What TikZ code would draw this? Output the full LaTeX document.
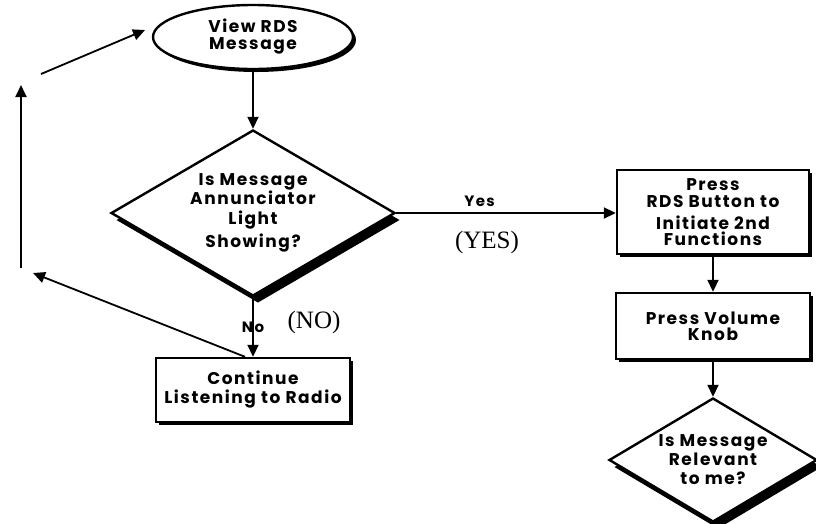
\documentclass[tikz,border=0pt]{standalone}
\usepackage{fontspec}
\newfontfamily\flowfont{Poppins}[LetterSpace=9]
\newfontfamily\capfont{Liberation Serif}
\usetikzlibrary{shapes.geometric,shadows,arrows.meta}

\begin{document}
\begin{tikzpicture}[x=1pt,y=-1pt,
    >={Triangle[length=12pt,width=11pt]},
    flow/.style={draw,line width=2.4pt,fill=white,align=center,inner sep=0pt,
        font=\flowfont\bfseries\fontsize{17}{19}\selectfont},
    boxshadow/.style={drop shadow={shadow xshift=3pt,shadow yshift=-3pt,fill=black,opacity=1}},
    box/.style={flow,rectangle,boxshadow},
    ask/.style={flow,diamond,drop shadow={shadow xshift=5pt,shadow yshift=-7pt,fill=black,opacity=1}},
    link/.style={->,line width=1.8pt},
    tag/.style={font=\flowfont\bfseries\fontsize{15}{15}\selectfont,inner sep=1pt},
    note/.style={font=\capfont\fontsize{25}{25}\selectfont,inner sep=0pt}]
    \useasboundingbox (0,0) rectangle (816,523);

    % Start and first question
    \node[flow,ellipse,boxshadow,minimum width=200pt,minimum height=64pt] (view) at (253,37) {View RDS\\[-2pt]Message};
    \node[ask,aspect=1.75,minimum width=284pt,minimum height=166pt] (light) at (253,213) {Is Message\\Annunciator\\[1pt]Light\\[4pt]Showing?};

    % Yes branch
    \node[box,minimum width=192pt,minimum height=84pt] (press) at (713,212) {Press\\[-2pt]RDS Button to\\[3pt]Initiate 2nd\\[-3pt]Functions};
    \node[box,minimum width=194pt,minimum height=66pt] (knob) at (713,326) {Press Volume\\[-3pt]Knob};
    \node[ask,aspect=1.7,minimum width=208pt,minimum height=124pt] (relevant) at (713,460) {Is Message\\Relevant\\to me?};

    % No branch
    \node[box,minimum width=194pt,minimum height=64pt] (cont) at (253,390) {Continue\\Listening to Radio};

    % Free ends of the loop back
    \coordinate (back1) at (33,273);
    \coordinate (up0) at (21,268);
    \coordinate (up1) at (21,85);
    \coordinate (over0) at (41,74);
    \coordinate (over1) at (145,30);

    % Connectors
    \draw[link] (view) -- (light);
    \draw[link] (light.east) -- node[tag,above=4pt,pos=0.38] (yes) {Yes} (light.east -| press.west);
    \draw[link] (press) -- (knob);
    \draw[link] (knob) -- (relevant);
    \draw[link] (light.south) -- node[tag,pos=0.5] (no) {No} (cont.north);
    \draw[link] ([xshift=-8pt]cont.north) -- (back1);
    \draw[link] (up0) -- (up1);
    \draw[link] (over0) -- (over1);

    % Answers written on the copy
    \node[note] (yescap) at (487,242) {(YES)};
    \node[note] (nocap) at (314,322) {(NO)};
\end{tikzpicture}
\end{document}
